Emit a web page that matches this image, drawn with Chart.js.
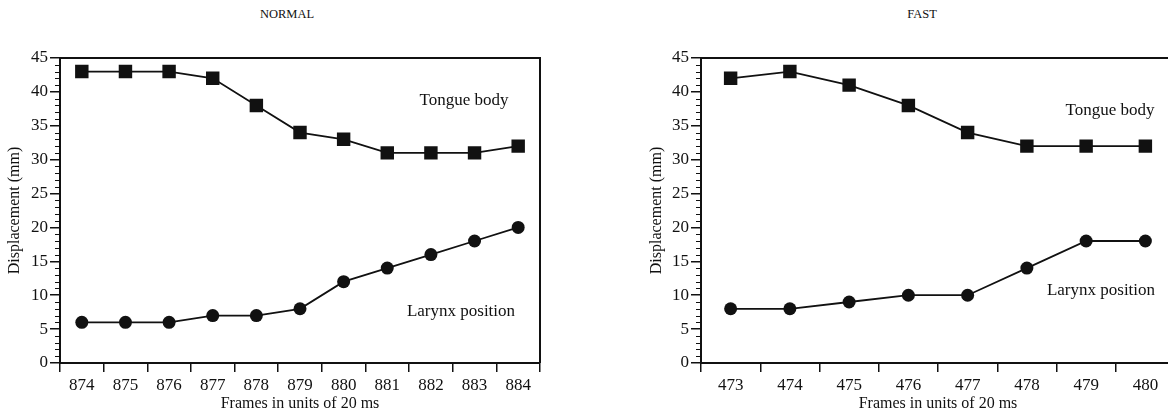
<!DOCTYPE html>
<html>
<head>
<meta charset="utf-8">
<script src="https://cdn.jsdelivr.net/npm/chart.js@4"></script>
<style>
    body { margin: 0; width: 1168px; height: 414px; overflow: hidden; background: #fff; position: relative; font-family: "Liberation Serif", serif; color: #111; }
    canvas { position: absolute; top: 0; }
    #normalChart { left: 0; }
    #fastChart { left: 640px; }
    .panel-title { position: absolute; top: 7px; font-size: 12.5px; transform: translateX(-50%); }
</style>
</head>
<body>
<div class="panel-title" style="left:287px">NORMAL</div>
<div class="panel-title" style="left:922px">FAST</div>
<canvas id="normalChart" width="580" height="414"></canvas>
<canvas id="fastChart" width="560" height="414"></canvas>
<script>
const normalFrames = ['874', '875', '876', '877', '878', '879', '880', '881', '882', '883', '884'];
const normalTongue = [43, 43, 43, 42, 38, 34, 33, 31, 31, 31, 32];
const normalLarynx = [6, 6, 6, 7, 7, 8, 12, 14, 16, 18, 20];

const fastFrames = ['473', '474', '475', '476', '477', '478', '479', '480'];
const fastTongue = [42, 43, 41, 38, 34, 32, 32, 32];
const fastLarynx = [8, 8, 9, 10, 10, 14, 18, 18];

const yTicks = [0, 5, 10, 15, 20, 25, 30, 35, 40, 45];

const ink = '#111';

// top/right frame, minor y ticks and the curve labels
const frameAndTicks = {
    id: 'frameAndTicks',
    afterDraw(chart, args, opts) {
        const { ctx, chartArea, scales: { y } } = chart;
        ctx.save();
        ctx.strokeStyle = ink;
        ctx.lineWidth = 2;
        ctx.beginPath();
        ctx.moveTo(chartArea.left, chartArea.top);
        ctx.lineTo(chartArea.right, chartArea.top);
        ctx.lineTo(chartArea.right, chartArea.bottom);
        ctx.stroke();

        ctx.lineWidth = 1.2;
        ctx.beginPath();
        for (let v = y.min; v <= y.max; v++) {
            if (v % 5 === 0) continue;
            const py = Math.round(y.getPixelForValue(v)) + 0.5;
            ctx.moveTo(chartArea.left - 5, py);
            ctx.lineTo(chartArea.left, py);
        }
        ctx.stroke();

        ctx.fillStyle = ink;
        ctx.font = '17px "Liberation Serif"';
        ctx.textAlign = 'center';
        ctx.textBaseline = 'middle';
        (opts.labels || []).forEach(l => ctx.fillText(l.text, l.x, l.y));
        ctx.restore();
    }
};

function makeChart(id, frames, tongue, larynx, yWidth, padRight, yTitlePad, labels) {
    return new Chart(document.getElementById(id), {
        type: 'line',
        data: {
            labels: frames,
            datasets: [{
                label: 'Tongue body',
                data: tongue,
                borderColor: ink,
                backgroundColor: ink,
                borderWidth: 1.8,
                pointStyle: 'rect',
                pointRadius: 9.5,
                pointBorderWidth: 0,
            }, {
                label: 'Larynx position',
                data: larynx,
                borderColor: ink,
                backgroundColor: ink,
                borderWidth: 1.8,
                pointStyle: 'circle',
                pointRadius: 6.5,
                pointBorderWidth: 0,
            }]
        },
        options: {
            responsive: false,
            animation: false,
            layout: { padding: { top: 58, right: padRight, left: 0, bottom: 0 } },
            plugins: {
                legend: { display: false },
                tooltip: { enabled: false },
                frameAndTicks: { labels: labels },
            },
            scales: {
                x: {
                    offset: true,
                    grid: { offset: true, drawOnChartArea: false, tickLength: 9, color: ink, lineWidth: 1.5 },
                    border: { color: ink, width: 2 },
                    ticks: { color: ink, font: { family: 'Liberation Serif', size: 17 }, padding: 3, maxRotation: 0 },
                    title: { display: true, text: 'Frames in units of 20 ms', color: ink, font: { family: 'Liberation Serif', size: 16 }, padding: { top: 0, bottom: 1 } },
                    afterFit: s => { s.height = 51; },
                },
                y: {
                    min: 0,
                    max: 45,
                    afterBuildTicks: s => { s.ticks = yTicks.map(v => ({ value: v })); },
                    grid: { drawOnChartArea: false, tickLength: 10, color: ink, lineWidth: 1.5 },
                    border: { color: ink, width: 2 },
                    ticks: { color: ink, font: { family: 'Liberation Serif', size: 17 }, padding: 2 },
                    title: { display: true, text: 'Displacement (mm)', color: ink, font: { family: 'Liberation Serif', size: 16 }, padding: { top: yTitlePad, bottom: 0 } },
                    afterFit: s => { s.width = yWidth; },
                }
            }
        },
        plugins: [frameAndTicks]
    });
}

makeChart('normalChart', normalFrames, normalTongue, normalLarynx, 60, 40, 5, [
    { text: 'Tongue body', x: 464, y: 101 },
    { text: 'Larynx position', x: 461, y: 312 },
]);

makeChart('fastChart', fastFrames, fastTongue, fastLarynx, 61, 25, 7, [
    { text: 'Tongue body', x: 470, y: 111 },
    { text: 'Larynx position', x: 461, y: 291 },
]);
</script>
</body>
</html>
